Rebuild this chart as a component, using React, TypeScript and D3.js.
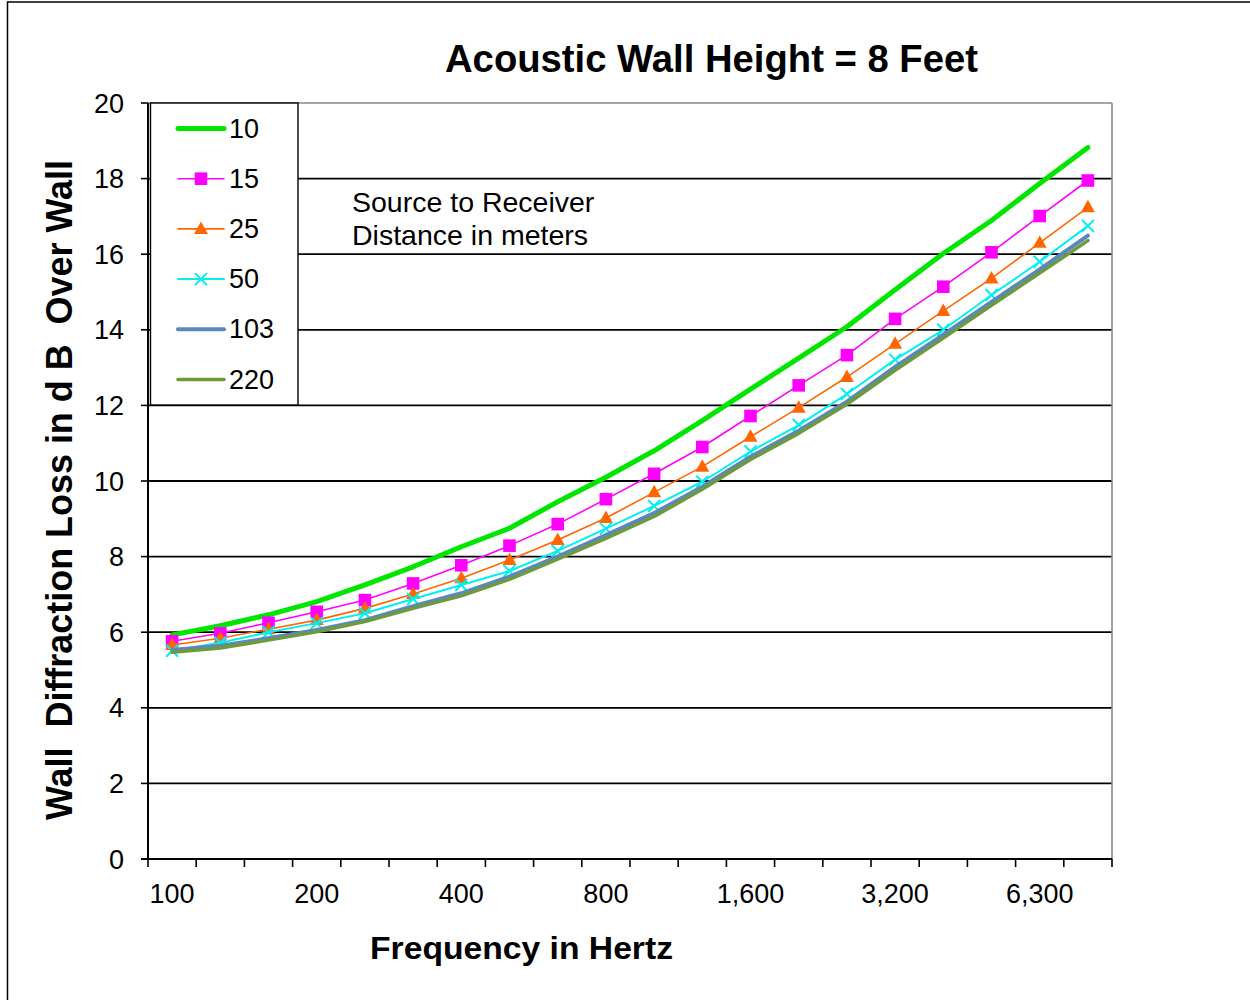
import React from "react";
import * as d3 from "d3";

const frequencies = [100, 125, 160, 200, 250, 315, 400, 500, 630, 800, 1000, 1250, 1600, 2000, 2500, 3200, 4000, 5000, 6300, 8000];
const labeledFrequencies = [100, 200, 400, 800, 1600, 3200, 6300];
const yTicks = [0, 2, 4, 6, 8, 10, 12, 14, 16, 18, 20];

const dist10 = [5.93, 6.17, 6.46, 6.81, 7.25, 7.73, 8.26, 8.75, 9.45, 10.1, 10.8, 11.6, 12.43, 13.25, 14.08, 15.06, 16.02, 16.89, 17.87, 18.82];
const dist15 = [5.76, 5.97, 6.25, 6.54, 6.85, 7.29, 7.77, 8.29, 8.86, 9.52, 10.19, 10.9, 11.72, 12.53, 13.33, 14.29, 15.14, 16.05, 17.01, 17.95];
const dist25 = [5.66, 5.84, 6.08, 6.32, 6.63, 7.01, 7.43, 7.91, 8.44, 9.02, 9.7, 10.38, 11.17, 11.94, 12.75, 13.63, 14.5, 15.36, 16.3, 17.24];
const dist50 = [5.51, 5.72, 6.0, 6.24, 6.5, 6.88, 7.25, 7.62, 8.15, 8.74, 9.34, 9.98, 10.78, 11.48, 12.3, 13.21, 14.0, 14.92, 15.8, 16.75];
const dist103 = [5.53, 5.64, 5.84, 6.06, 6.32, 6.69, 7.03, 7.47, 8.0, 8.57, 9.15, 9.85, 10.64, 11.33, 12.1, 13.02, 13.87, 14.74, 15.6, 16.49];
const dist220 = [5.47, 5.58, 5.79, 6.01, 6.28, 6.63, 6.96, 7.4, 7.93, 8.48, 9.06, 9.78, 10.57, 11.26, 12.03, 12.93, 13.78, 14.65, 15.5, 16.36];

const seriesNames = ["10", "15", "25", "50", "103", "220"];
const seriesValues = [dist10, dist15, dist25, dist50, dist103, dist220];
const seriesColors = ["#00e600", "#ff00ff", "#ff6600", "#00f0f0", "#5b87bf", "#6e9a3e"];
const seriesWidths = [5, 1.6, 1.6, 2, 4, 3.5];
const seriesMarkers = ["none", "square", "triangle", "x", "none", "none"];

const FONT = "'Liberation Sans', Arial, sans-serif";

function Marker({ type, x, y, color }: { type: string; x: number; y: number; color: string }) {
  if (type === "square") {
    return <rect x={x - 6.3} y={y - 6.3} width={12.6} height={12.6} fill={color} />;
  }
  if (type === "triangle") {
    return <path d={`M${x},${y - 7.5} L${x + 7},${y + 5} L${x - 7},${y + 5} Z`} fill={color} />;
  }
  if (type === "x") {
    return (
      <path
        d={`M${x - 6},${y - 6} L${x + 6},${y + 6} M${x - 6},${y + 6} L${x + 6},${y - 6}`}
        stroke={color}
        strokeWidth={2}
        fill="none"
      />
    );
  }
  return null;
}

export default function App() {
  const left = 148, right = 1112, top = 103, bottom = 859;
  const x = d3.scaleBand<number>().domain(frequencies).range([left, right]);
  const y = d3.scaleLinear().domain([0, 20]).range([bottom, top]);
  const cx = (f: number) => (x(f) as number) + x.bandwidth() / 2;
  const fmt = d3.format(",");

  const line = d3
    .line<number>()
    .x((_, i) => cx(frequencies[i]))
    .y((v) => y(v));

  const boundaries = frequencies.map((f) => x(f) as number).concat([right]);

  const legendX1 = 178, legendX2 = 224;
  const legendY0 = 128.5, legendStep = 50.2;

  return (
    <div style={{ position: "absolute", left: 0, top: 0 }}>
      <svg width={1250} height={1000} style={{ display: "block", background: "#fff" }} fontFamily={FONT}>
        <rect x={0} y={0} width={1250} height={1000} fill="#fff" />
        <rect x={7.5} y={2} width={1260} height={1010} fill="none" stroke="#000" strokeWidth={1.5} />

        {/* Title */}
        <text x={711.5} y={72} textAnchor="middle" fontSize={38} fontWeight="bold" fill="#000" textLength={533} lengthAdjust="spacingAndGlyphs">
          Acoustic Wall Height = 8 Feet
        </text>

        {/* gridlines */}
        {yTicks.filter((t) => t > 0 && t < 20).map((t) => (
          <line key={"g" + t} x1={left} x2={right} y1={y(t)} y2={y(t)} stroke="#000" strokeWidth={1.8} />
        ))}
        {/* plot area border top/right (gray) */}
        <line x1={left} x2={right} y1={top} y2={top} stroke="#888" strokeWidth={1.6} />
        <line x1={right} x2={right} y1={top} y2={bottom} stroke="#888" strokeWidth={1.6} />

        {/* Y axis */}
        <line x1={left} x2={left} y1={top} y2={bottom} stroke="#000" strokeWidth={2} />
        {yTicks.map((t) => (
          <g key={"yt" + t}>
            <line x1={left - 7} x2={left} y1={y(t)} y2={y(t)} stroke="#000" strokeWidth={1.6} />
            <text x={124} y={y(t) + 9.5} textAnchor="end" fontSize={27} fill="#000">
              {t}
            </text>
          </g>
        ))}

        {/* X axis */}
        <line x1={left - 7} x2={right} y1={bottom} y2={bottom} stroke="#000" strokeWidth={2} />
        {boundaries.map((b, i) => (
          <line key={"xt" + i} x1={b} x2={b} y1={bottom} y2={bottom + 8} stroke="#000" strokeWidth={1.6} />
        ))}
        {labeledFrequencies.map((f) => (
          <text key={"xl" + f} x={cx(f)} y={903} textAnchor="middle" fontSize={27} fill="#000">
            {fmt(f)}
          </text>
        ))}

        {/* Axis titles */}
        <text
          x={521.5}
          y={959}
          textAnchor="middle"
          fontSize={32}
          fontWeight="bold"
          textLength={303}
          lengthAdjust="spacingAndGlyphs"
          fill="#000"
        >
          Frequency in Hertz
        </text>
        <text
          transform="translate(72,490) rotate(-90)"
          textAnchor="middle"
          fontSize={36}
          fontWeight="bold"
          textLength={660}
          lengthAdjust="spacingAndGlyphs"
          style={{ whiteSpace: "pre" }}
          fill="#000"
        >
          {"Wall  Diffraction Loss in d B  Over Wall"}
        </text>

        {/* Series */}
        {seriesValues.map((vals, si) => (
          <g key={"s" + si}>
            <path
              d={line(vals) || ""}
              fill="none"
              stroke={seriesColors[si]}
              strokeWidth={seriesWidths[si]}
              strokeLinejoin="round"
              strokeLinecap="round"
            />
            {vals.map((v, i) => (
              <Marker key={i} type={seriesMarkers[si]} x={cx(frequencies[i])} y={y(v)} color={seriesColors[si]} />
            ))}
          </g>
        ))}

        {/* Annotation */}
        <text x={352} y={212} fontSize={28.5} fill="#000">Source to Receiver</text>
        <text x={352} y={245} fontSize={28.5} fill="#000">Distance in meters</text>

        {/* Legend */}
        <rect x={150.5} y={103} width={147.5} height={302} fill="#fff" stroke="#000" strokeWidth={1.4} />
        {seriesNames.map((name, si) => {
          const ly = legendY0 + si * legendStep;
          const mid = (legendX1 + legendX2) / 2;
          return (
            <g key={"l" + si}>
              <line
                x1={legendX1}
                x2={legendX2}
                y1={ly}
                y2={ly}
                stroke={seriesColors[si]}
                strokeWidth={seriesWidths[si]}
                strokeLinecap="round"
              />
              <Marker type={seriesMarkers[si]} x={mid} y={ly} color={seriesColors[si]} />
              <text x={229} y={ly + 9} fontSize={27} fill="#000">
                {name}
              </text>
            </g>
          );
        })}
      </svg>
    </div>
  );
}
